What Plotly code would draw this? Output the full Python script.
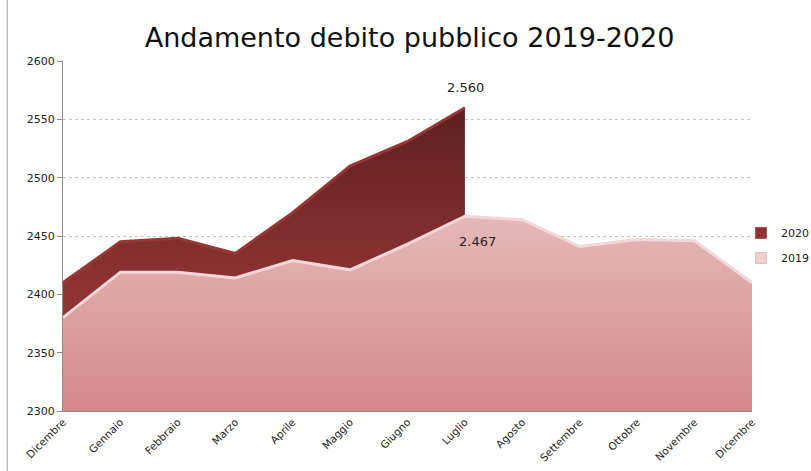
import plotly.graph_objects as go

months = ["Dicembre", "Gennaio", "Febbraio", "Marzo", "Aprile", "Maggio", "Giugno",
          "Luglio", "Agosto", "Settembre", "Ottobre", "Novembre", "Dicembre"]
debt_2019 = [2380, 2419, 2419, 2414, 2429, 2421, 2443, 2467, 2464, 2441, 2447, 2446, 2410]
debt_2020 = [2410, 2445, 2448, 2435, 2470, 2510, 2531, 2560]
y_ticks = [2300, 2350, 2400, 2450, 2500, 2550, 2600]
series_names = ["2020", "2019"]
legend_colors = ["#8f3433", "#f0cfcf"]

x_all = list(range(len(months)))
x_2020 = x_all[:len(debt_2020)]

def it_fmt(v):
    return f"{v:,}".replace(",", ".")

fig = go.Figure()

fig.add_trace(go.Scatter(
    x=x_2020, y=debt_2020, name=series_names[0], mode="lines",
    line=dict(color="#983634", width=3),
    fill="tozeroy", showlegend=False,
    fillgradient=dict(type="vertical", start=2400, stop=2560,
                      colorscale=[[0, "#8f3433"], [1, "#5e2020"]]),
    hoverinfo="x+y",
))
fig.add_trace(go.Scatter(
    x=x_all, y=debt_2019, name=series_names[1], mode="lines",
    line=dict(color="#f2d8d8", width=3),
    fill="tozeroy", showlegend=False,
    fillgradient=dict(type="vertical", start=2300, stop=2467,
                      colorscale=[[0, "#d4898a"], [1, "#e6b8b8"]]),
    hoverinfo="x+y",
))

# legend entries (square swatches)
for name, col in zip(series_names, legend_colors):
    fig.add_trace(go.Scatter(
        x=[None], y=[None], name=name, mode="markers", legendgroup=name,
        marker=dict(symbol="square", size=11, color=col,
                    line=dict(color="#b05050" if name == "2020" else "#e8bcbc", width=1)),
    ))

i20 = len(debt_2020) - 1
fig.add_annotation(x=x_2020[i20], y=debt_2020[i20], text=it_fmt(debt_2020[i20]),
                   showarrow=False, yshift=20, xshift=1,
                   font=dict(family="DejaVu Sans", size=13, color="#222"))
fig.add_annotation(x=x_all[i20], y=debt_2019[i20], text=it_fmt(debt_2019[i20]),
                   showarrow=False, yshift=-25, xshift=13,
                   font=dict(family="DejaVu Sans", size=13, color="#222"))

# frame line on the left
fig.add_shape(type="line", xref="paper", yref="paper", x0=-0.081, x1=-0.081, y0=-0.2, y1=1.2,
              line=dict(color="#a0a0a0", width=1))

fig.update_layout(
    width=811, height=471,
    margin=dict(l=63, r=59, t=61, b=60, autoexpand=False),
    paper_bgcolor="white", plot_bgcolor="white",
    title=dict(text="Andamento debito pubblico 2019-2020", x=0.505, xanchor="center",
               y=0.92, yanchor="middle",
               font=dict(family="DejaVu Sans", size=27, color="#111")),
    font=dict(family="DejaVu Sans", size=11, color="#222"),
    showlegend=True,
    legend=dict(x=0.984, y=0.473, xanchor="left", yanchor="middle",
                tracegroupgap=6, itemwidth=30,
                font=dict(size=11, color="#222"), bgcolor="rgba(0,0,0,0)"),
    xaxis=dict(range=[0, 12], tickmode="array", tickvals=x_all, ticktext=months,
               tickangle=-45, showgrid=False, zeroline=False, automargin=False,
               showline=True, linecolor="#8c8c8c", linewidth=1,
               ticks="", tickfont=dict(size=10.5)),
    yaxis=dict(range=[2300, 2600], tickmode="array", tickvals=y_ticks, automargin=False,
               showgrid=True, gridcolor="#c4c4c4", griddash="dot", gridwidth=1,
               zeroline=False, showline=True, linecolor="#8c8c8c", linewidth=1,
               ticks="outside", ticklen=5, tickcolor="#8c8c8c",
               tickfont=dict(size=11)),
)

fig.write_html("out.html")
